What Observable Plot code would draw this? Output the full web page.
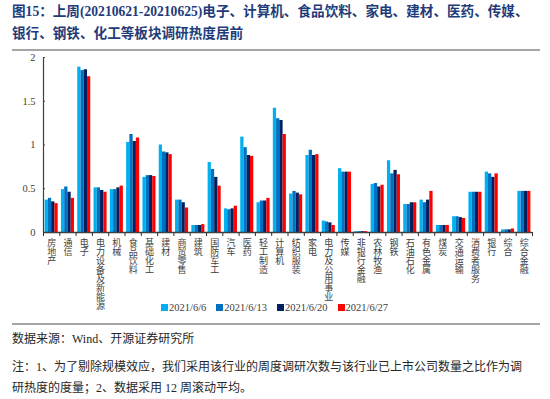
<!DOCTYPE html>
<html><head><meta charset="utf-8">
<script src="https://cdn.jsdelivr.net/npm/d3@7"></script>
<script src="https://cdn.jsdelivr.net/npm/@observablehq/plot@0.6"></script>
<style>
  body{margin:0;background:#fff;}
  #wrap{position:relative;width:550px;height:399px;overflow:hidden;font-family:"Liberation Serif","Noto Sans CJK SC",serif;}
  .abs{position:absolute;}
  #title{left:12px;top:1px;width:536px;font-size:13.6px;font-weight:bold;color:#1f3c7a;line-height:22px;white-space:nowrap;}
  .hr{left:12px;width:528px;height:2px;background:#a6a6a6;}
  #legend{top:302px;left:161px;font-size:10.5px;color:#404040;display:flex;gap:10px;white-space:nowrap;}
  #legend span.sw{display:inline-block;width:7px;height:7px;margin-right:1px;vertical-align:0px;}
  .txt{left:12px;font-size:12px;color:#262626;white-space:nowrap;}
  #chart{left:0;top:50px;}
  #chart svg{overflow:visible;}
</style></head>
<body><div id="wrap">
<div id="title" class="abs">图15：上周(20210621-20210625)电子、计算机、食品饮料、家电、建材、医药、传媒、<br>银行、钢铁、化工等板块调研热度居前</div>
<div class="abs hr" style="top:49px"></div>
<div id="chart" class="abs"></div>
<div id="legend" class="abs"></div>
<div class="abs hr" style="top:323px"></div>
<div class="abs txt" style="top:329px">数据来源：Wind、开源证券研究所</div>
<div class="abs txt" style="top:357px;line-height:21px">注：1、为了剔除规模效应，我们采用该行业的周度调研次数与该行业已上市公司数量之比作为调<br>研热度的度量；2、数据采用 12 周滚动平均。</div>
</div>
<script>
const categories = ["房地产","通信","电子","电力设备及新能源","机械","食品饮料","基础化工","建材","商贸零售","建筑","国防军工","汽车","医药","轻工制造","计算机","纺织服装","家电","电力及公用事业","传媒","非银行金融","农林牧渔","钢铁","石油石化","有色金属","煤炭","交通运输","消费者服务","银行","综合","综合金融"];
const seriesNames = ["2021/6/6","2021/6/13","2021/6/20","2021/6/27"];
const seriesColors = ["#00b0f0","#0070c0","#002060","#ff0000"];
const v0606 = [0.37,0.49,1.89,0.51,0.49,1.03,0.63,1.00,0.37,0.08,0.80,0.27,1.09,0.34,1.42,0.44,0.88,0.13,0.73,0.01,0.55,0.82,0.32,0.37,0.08,0.18,0.46,0.69,0.03,0.47];
const v0613 = [0.39,0.52,1.85,0.51,0.49,1.12,0.65,0.92,0.37,0.08,0.72,0.26,0.97,0.36,1.30,0.47,0.94,0.12,0.69,0.01,0.56,0.67,0.32,0.34,0.08,0.18,0.46,0.67,0.03,0.47];
const v0620 = [0.35,0.46,1.86,0.48,0.51,1.04,0.65,0.91,0.34,0.08,0.63,0.27,0.88,0.36,1.28,0.45,0.88,0.11,0.69,0.01,0.52,0.71,0.34,0.37,0.08,0.17,0.46,0.63,0.03,0.47];
const v0627 = [0.33,0.39,1.78,0.46,0.53,1.08,0.64,0.89,0.28,0.09,0.53,0.30,0.87,0.39,1.12,0.43,0.89,0.08,0.69,0.01,0.54,0.66,0.34,0.47,0.08,0.16,0.46,0.67,0.04,0.47];
const yTicks = [0,0.5,1,1.5,2];
const yTickLabels = ["0","0.5","1","1.5","2"];

const seriesValues = [v0606,v0613,v0620,v0627];
const rows = [];
categories.forEach((c,i)=>seriesValues.forEach((arr,s)=>rows.push({cat:c,i,s,series:seriesNames[s],v:arr[i]})));

const font = `"Liberation Serif","Noto Sans CJK SC",serif`;
const chart = Plot.plot({
  width:550, height:262,
  marginTop:7, marginBottom:80, marginLeft:43, marginRight:18,
  style:{fontFamily:font, fontSize:"10px", color:"#404040", background:"transparent"},
  x:{domain:[0,categories.length], axis:null},
  y:{domain:[0,2], axis:null},
  color:{domain:seriesNames, range:seriesColors},
  marks:[
    Plot.rect(rows,{x1:d=>d.i+0.1+d.s*0.2, x2:d=>d.i+0.3+d.s*0.2, y1:0, y2:"v", fill:"series"}),
    Plot.axisY({ticks:yTicks, tickFormat:(d)=>yTickLabels[yTicks.indexOf(d)], tickSize:0, tickPadding:8, fontSize:10.5, label:null}),
    Plot.ruleY(yTicks,{y:d=>d, x1:0, x2:0.12, stroke:"#404040"}),
    Plot.ruleX([0],{stroke:"#404040", strokeWidth:1.2}),
    Plot.ruleY([0],{stroke:"#404040", strokeWidth:1.6}),
    Plot.axisX({ticks:d3.range(categories.length+1), tickSize:4, tickFormat:()=>"", stroke:"#303030", label:null}),
    Plot.axisX({ticks:d3.range(categories.length).map(i=>i+0.5), tickSize:0, tickPadding:7, label:null,
      tickFormat:(d)=>categories[Math.floor(d)].split("").join("\n"),
      lineAnchor:"top", lineHeight:1.0, fontSize:9, fill:"#404040"})
  ]
});
document.getElementById("chart").appendChild(chart);

const lg = document.getElementById("legend");
seriesNames.forEach((n,k)=>{
  const d=document.createElement("div");
  d.innerHTML=`<span class="sw" style="background:${seriesColors[k]}"></span>${n}`;
  lg.appendChild(d);
});
</script>
</body></html>
